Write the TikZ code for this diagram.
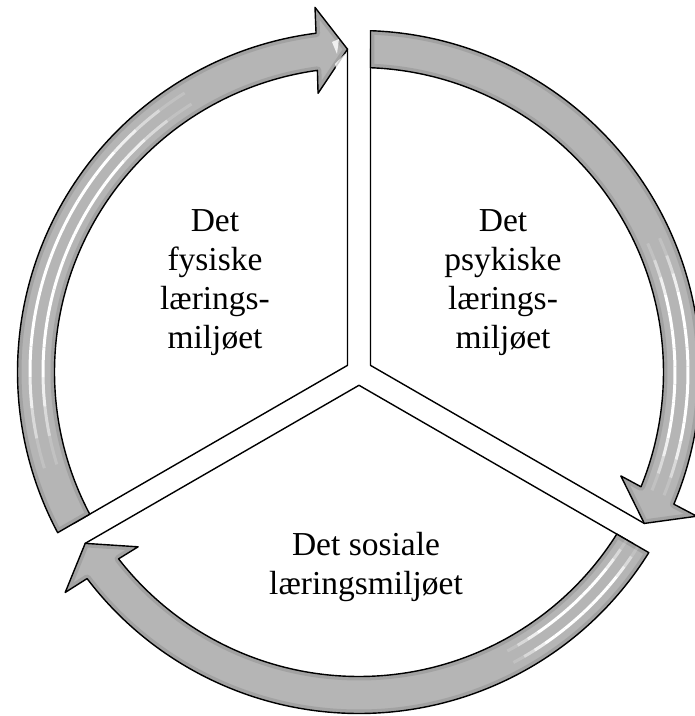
\documentclass[tikz,border=0pt]{standalone}
\usepackage{fontspec}
\setmainfont{Liberation Serif}
\def\cgap{11.5}
\def\cro{341.5}
\def\cri{304.5}
\def\crm{323}
\def\chl{31}
\def\chw{43}
\newcommand\arrowcalc[2]{%
  \pgfmathsetmacro\tailo{#1-asin(\cgap/\cro)}%
  \pgfmathsetmacro\taili{#1-asin(\cgap/\cri)}%
  \pgfmathsetmacro\tipa{#2+asin(\cgap/\crm)}%
  \pgfmathsetmacro\backo{\tipa+atan(\chl/\cro)}%
  \pgfmathsetmacro\backi{\tipa+atan(\chl/\cri)}%
  \pgfmathsetmacro\Pox{(\crm+\chw)*cos(\tipa)-\chl*sin(\tipa)}%
  \pgfmathsetmacro\Poy{(\crm+\chw)*sin(\tipa)+\chl*cos(\tipa)}%
  \pgfmathsetmacro\Pix{(\crm-\chw)*cos(\tipa)-\chl*sin(\tipa)}%
  \pgfmathsetmacro\Piy{(\crm-\chw)*sin(\tipa)+\chl*cos(\tipa)}%
}
\newcommand\arrowpath{(\tailo:\cro) arc[start angle=\tailo, end angle=\backo, radius=\cro] -- (\Pox,\Poy) -- (\tipa:\crm) -- (\Pix,\Piy) -- (\backi:\cri) arc[start angle=\backi, end angle=\taili, radius=\cri] -- cycle}
\newcommand\stripe[3]{%
  \foreach \k in {0,...,13}{%
    \pgfmathsetmacro\sA{#2+(#3-#2)*\k/14}%
    \pgfmathsetmacro\sB{#2+(#3-#2)*(\k+1)/14}%
    \pgfmathsetmacro\sO{min(1,1.5*sin(180*(\k+0.5)/14))}%
    \draw[white, line width=3pt, opacity=\sO] (\sA:#1) arc[start angle=\sA, end angle=\sB, radius=#1];
  }}
\newcommand\sectoroutline[2]{%
  \pgfmathsetmacro\sa{#1+asin(\cgap/\crm)}%
  \pgfmathsetmacro\sb{#2-asin(\cgap/\crm)}%
  \pgfmathsetmacro\sm{(#1+#2)/2}%
  \pgfmathsetmacro\sv{\cgap/sin(60)}%
  \draw[sectorline] (\sm:\sv) -- (\sa:\crm) arc[start angle=\sa, end angle=\sb, radius=\crm] -- cycle;
}
\newcommand\cyclearrow[4]{%
  \arrowcalc{#1}{#2}%
  \fill[arrowfill] \arrowpath;
  \begin{scope}
    \clip \arrowpath;
    \draw[black!45, line width=8pt, opacity=0.45] \arrowpath;
    \stripe{329}{#3}{#4}
    \stripe{316}{#3}{#4}
  \end{scope}
  \draw[arrowline] \arrowpath;
}
\begin{document}
\begin{tikzpicture}[x=1pt, y=1pt, line join=round,
  sectorline/.style={draw=black, line width=1.4pt, fill=white},
  arrowfill/.style={fill=black!29},
  arrowline/.style={draw=black, line width=1.4pt},
  lbl/.style={font=\fontsize{33.5}{39}\selectfont, align=center, inner sep=0pt, anchor=north}]
\fill[white] (-359,-344) rectangle (336,372);
\useasboundingbox (-359,-344) rectangle (336,372);
% sectors
\sectoroutline{-30}{90}
\sectoroutline{90}{210}
\sectoroutline{210}{330}
% arrows
\cyclearrow{210}{90}{197}{122}
\cyclearrow{90}{-30}{24}{-22}
\cyclearrow{330}{210}{328}{298}
% glints
\fill[white, opacity=0.8] (-27,330) -- (-22,318) -- (-20,333) -- cycle;
\fill[white, opacity=0.8] (-24,308) -- (-14,318) -- (-22,300) -- cycle;
% labels
\node[lbl] (fys) at (-144,163) {Det\\fysiske\\lærings-\\miljøet};
\node[lbl] (psy) at (144,163) {Det\\psykiske\\lærings-\\miljøet};
\node[lbl] (sos) at (7,-160) {Det sosiale\\læringsmiljøet};
\end{tikzpicture}
\end{document}
